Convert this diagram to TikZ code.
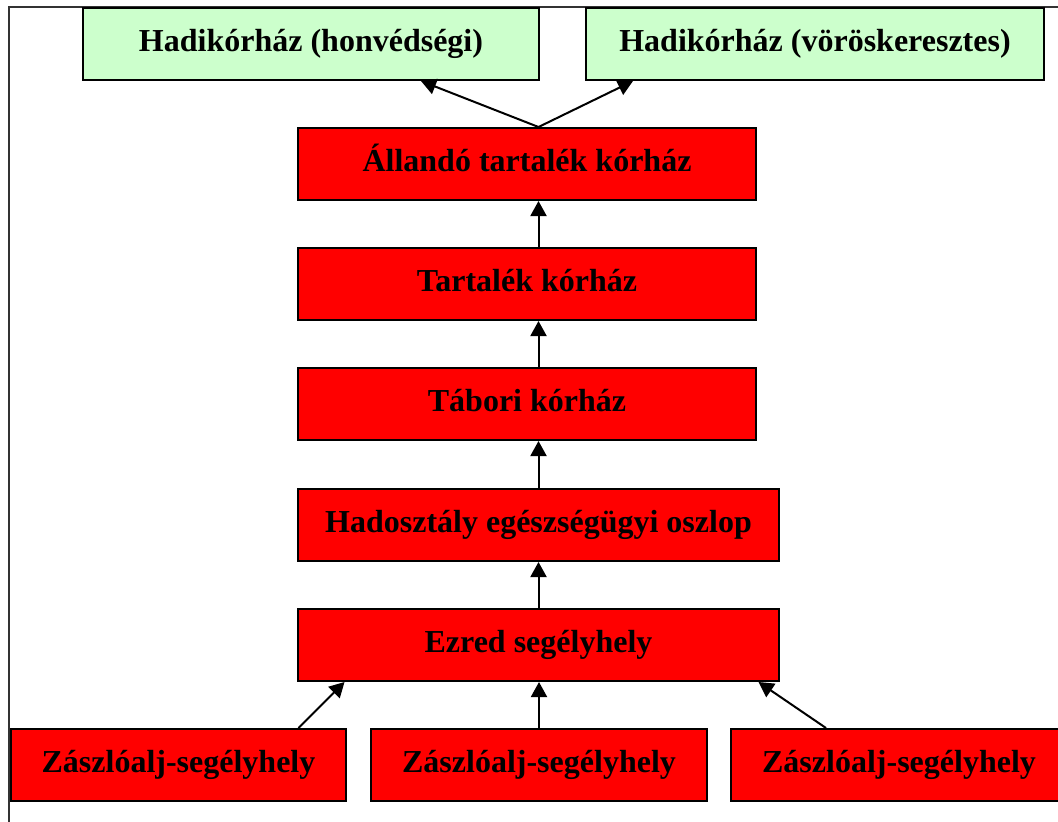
\documentclass[tikz,border=0pt]{standalone}
\usepackage{fontspec}
\setmainfont{Liberation Serif}
\usetikzlibrary{arrows.meta}
\definecolor{boxred}{HTML}{FF0000}
\definecolor{boxgreen}{HTML}{CCFFCC}
\tikzset{
  unit/.style={draw=black, line width=1pt, inner sep=0pt, minimum height=36pt,
    text height=12.5pt, text depth=5.5pt,
    font=\fontsize{16}{19}\selectfont\bfseries},
  redbox/.style={unit, fill=boxred},
  greenbox/.style={unit, fill=boxgreen},
  arr/.style={line width=1pt, -{Triangle[width=8pt,length=7.5pt]}},
}
\begin{document}
\begin{tikzpicture}[x=0.5pt,y=-0.5pt]
  \useasboundingbox (0,0) rectangle (1058,821);
  \clip (0,0) rectangle (1058,821);
  % outer frame
  \draw[line width=0.75pt, draw=black!80] (9,7) rectangle (1075,835);

  % top level: field hospitals
  \node[greenbox, minimum width=228pt] (hl) at (311,44) {Hadikórház (honvédségi)};
  \node[greenbox, minimum width=229pt] (hr) at (815,44) {Hadikórház (vöröskeresztes)};

  % chain of medical units
  \node[redbox, minimum width=229pt] (a1) at (527,164) {Állandó tartalék kórház};
  \node[redbox, minimum width=229pt] (a2) at (527,284) {Tartalék kórház};
  \node[redbox, minimum width=229pt] (a3) at (527,404) {Tábori kórház};
  \node[redbox, minimum width=240.5pt] (a4) at (538.5,525) {Hadosztály egészségügyi oszlop};
  \node[redbox, minimum width=240.5pt] (a5) at (538.5,645) {Ezred segélyhely};

  % battalion aid stations
  \node[redbox, minimum width=167.5pt] (b1) at (178.5,765) {Zászlóalj-segélyhely};
  \node[redbox, minimum width=168pt] (b2) at (539,765) {Zászlóalj-segélyhely};
  \node[redbox, minimum width=168pt] (b3) at (899,765) {Zászlóalj-segélyhely};

  % connectors
  \draw[arr] (a1.north -| a5) -- ([xshift=55pt]hl.south);
  \draw[arr] (a1.north -| a5) -- ([xshift=-91pt]hr.south);
  \draw[arr] (a2.north -| a5) -- (a1.south -| a5);
  \draw[arr] (a3.north -| a5) -- (a2.south -| a5);
  \draw[arr] (a4.north) -- (a3.south -| a4);
  \draw[arr] (a5.north) -- (a4.south);
  \draw[arr] ([xshift=60pt]b1.north) -- ([xshift=-97pt]a5.south);
  \draw[arr] (b2.north) -- (a5.south -| b2);
  \draw[arr] ([xshift=-36.5pt]b3.north) -- ([xshift=110pt]a5.south);
\end{tikzpicture}
\end{document}
